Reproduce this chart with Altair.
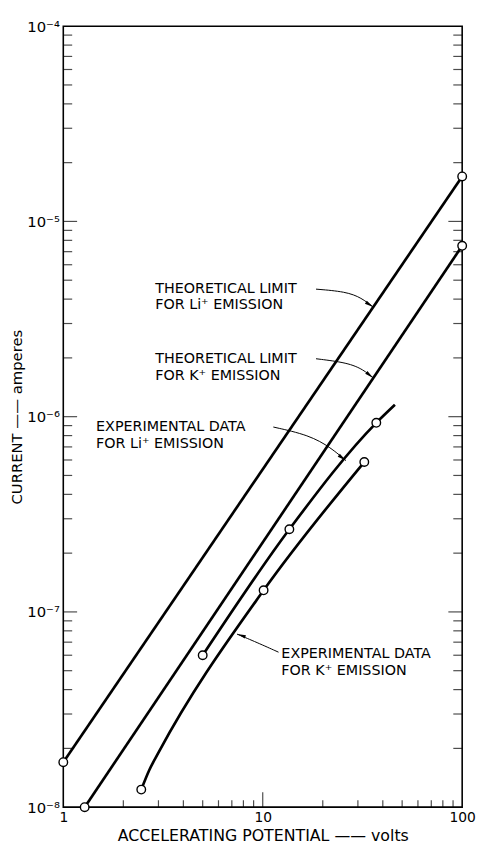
import altair as alt
import pandas as pd

# ---------------- data ----------------
li_theory_x = [1.0, 100.0]
li_theory_y = [1.7e-8, 1.7e-5]
li_theory_marker = [True, True]

k_theory_x = [1.28, 100.0]
k_theory_y = [1.0e-8, 7.5e-6]
k_theory_marker = [True, True]

li_exp_x = [5.0, 13.6, 37.1, 46.0]
li_exp_y = [6.0e-8, 2.65e-7, 9.3e-7, 1.15e-6]
li_exp_marker = [True, True, True, False]

k_exp_x = [2.46, 2.7, 3.0, 10.1, 32.3]
k_exp_y = [1.23e-8, 1.55e-8, 1.9e-8, 1.29e-7, 5.86e-7]
k_exp_marker = [True, False, False, True, True]

# tick positions
x_label_values = [1, 10, 100]
x_minor_ticks = [2, 3, 4, 5, 6, 7, 8, 9, 20, 30, 40, 50, 60, 70, 80, 90]
x_major_ticks = [10]
y_label_values = [1e-8, 1e-7, 1e-6, 1e-5, 1e-4]
y_decades = [1e-8, 1e-7, 1e-6, 1e-5]
y_multipliers = [2, 3, 4, 5, 6, 7, 8, 9]
y_major_ticks = [1e-7, 1e-6, 1e-5]

# annotations (text lines, anchor in data coordinates)
ann_text = ["THEORETICAL LIMIT", "FOR Li⁺ EMISSION",
            "THEORETICAL LIMIT", "FOR K⁺ EMISSION",
            "EXPERIMENTAL DATA", "FOR Li⁺ EMISSION",
            "EXPERIMENTAL DATA", "FOR K⁺ EMISSION"]
ann_x = [2.89, 2.89, 2.89, 2.89, 1.46, 1.46, 12.4, 12.4]
ann_y = [4.52e-6, 3.71e-6, 1.98e-6, 1.62e-6, 8.85e-7, 7.26e-7, 6.08e-8, 4.99e-8]

arrow_id = [1, 1, 1, 1, 2, 2, 2, 2, 3, 3, 3, 3, 4, 4, 4]
arrow_x = [18.5, 26.1, 31.3, 35.8,
           18.5, 26.7, 32.0, 35.8,
           11.3, 17.1, 22.0, 26.1,
           12.0, 9.34, 7.43]
arrow_y = [4.5e-6, 4.37e-6, 4.06e-6, 3.64e-6,
           1.98e-6, 1.89e-6, 1.74e-6, 1.58e-6,
           8.85e-7, 8.05e-7, 6.93e-7, 5.96e-7,
           6.22e-8, 6.98e-8, 7.7e-8]
head_x = [35.8, 35.8, 26.1, 7.43]
head_y = [3.64e-6, 1.58e-6, 5.96e-7, 7.7e-8]
head_angle = [124, 129, 127, 288]

# ---------------- tables ----------------
rows = []
for name, xs, ys, ms in [("li_theory", li_theory_x, li_theory_y, li_theory_marker),
                         ("k_theory", k_theory_x, k_theory_y, k_theory_marker),
                         ("li_exp", li_exp_x, li_exp_y, li_exp_marker),
                         ("k_exp", k_exp_x, k_exp_y, k_exp_marker)]:
    for i, (x, y, m) in enumerate(zip(xs, ys, ms)):
        rows.append({"series": name, "x": x, "y": y, "i": i, "marker": m})
df = pd.DataFrame(rows)
df_pts = df[df["marker"]]

df_xminor = pd.DataFrame({"x": x_minor_ticks, "y": [1e-8] * len(x_minor_ticks)})
df_xmajor = pd.DataFrame({"x": x_major_ticks, "y": [1e-8] * len(x_major_ticks)})
y_minor = [d * m for d in y_decades for m in y_multipliers]
df_yminor_l = pd.DataFrame({"x": [1] * len(y_minor), "y": y_minor})
df_ymajor_l = pd.DataFrame({"x": [1] * len(y_major_ticks), "y": y_major_ticks})
df_yminor_r = pd.DataFrame({"x": [100] * len(y_minor), "y": y_minor})
df_ymajor_r = pd.DataFrame({"x": [100] * len(y_major_ticks), "y": y_major_ticks})

df_text = pd.DataFrame({"x": ann_x, "y": ann_y, "text": ann_text})
df_arrow = pd.DataFrame({"id": arrow_id, "x": arrow_x, "y": arrow_y,
                         "o": list(range(len(arrow_x)))})
df_head = pd.DataFrame({"x": head_x, "y": head_y, "angle": head_angle})

FONT = "DejaVu Sans"

X = alt.X("x:Q", scale=alt.Scale(type="log", domain=[1, 100], nice=False),
          axis=alt.Axis(values=x_label_values, format="d", ticks=False, domain=False,
                        grid=False, labelPadding=4, labelFontSize=14, labelFont=FONT,
                        labelColor="black", title="ACCELERATING POTENTIAL —— volts",
                        titleFont=FONT, titleFontSize=16, titleFontWeight="normal",
                        titleColor="black", titlePadding=3, labelFlush=False))
Y = alt.Y("y:Q", scale=alt.Scale(type="log", domain=[1e-8, 1e-4], nice=False),
          axis=alt.Axis(values=y_label_values,
                        labelExpr="'10' + ['⁻⁸','⁻⁷','⁻⁶','⁻⁵','⁻⁴'][round(log(datum.value)/LN10)+8]",
                        ticks=False, domain=False, grid=False, labelPadding=4,
                        labelFontSize=15, labelFont=FONT, labelColor="black",
                        labelFlush=False,
                        title="CURRENT —— amperes", titleFont=FONT, titleFontSize=15,
                        titleFontWeight="normal", titleColor="black", titlePadding=2))

lines = alt.Chart(df).mark_line(color="black", strokeWidth=2.7, interpolate="monotone").encode(
    x=X, y=Y, detail="series:N", order="i:Q")

points = alt.Chart(df_pts).mark_point(shape="circle", filled=True, fill="white", stroke="black",
                                      strokeWidth=1.4, size=75, opacity=1).encode(x=X, y=Y)

t_xminor = alt.Chart(df_xminor).mark_tick(orient="vertical", size=7, thickness=1.2,
                                          yOffset=-3.5, color="black").encode(x=X, y=Y)
t_xmajor = alt.Chart(df_xmajor).mark_tick(orient="vertical", size=15, thickness=1.2,
                                          yOffset=-7.5, color="black").encode(x=X, y=Y)
t_ylminor = alt.Chart(df_yminor_l).mark_tick(orient="horizontal", size=9, thickness=1.2,
                                             xOffset=4.5, color="black").encode(x=X, y=Y)
t_ylmajor = alt.Chart(df_ymajor_l).mark_tick(orient="horizontal", size=14, thickness=1.2,
                                             xOffset=7, color="black").encode(x=X, y=Y)
t_yrminor = alt.Chart(df_yminor_r).mark_tick(orient="horizontal", size=9, thickness=1.2,
                                             xOffset=-4.5, color="black").encode(x=X, y=Y)
t_yrmajor = alt.Chart(df_ymajor_r).mark_tick(orient="horizontal", size=14, thickness=1.2,
                                             xOffset=-7, color="black").encode(x=X, y=Y)

texts = alt.Chart(df_text).mark_text(align="left", baseline="middle", font=FONT,
                                     fontSize=14.5, color="black").encode(x=X, y=Y, text="text:N")

arrows = alt.Chart(df_arrow).mark_line(color="black", strokeWidth=1, interpolate="basis").encode(
    x=X, y=Y, detail="id:N", order="o:Q")

heads = alt.Chart(df_head).mark_point(shape="M0,0L0.4,2L-0.4,2Z", filled=True, color="black",
                                      size=80, opacity=1).encode(
    x=X, y=Y, angle=alt.Angle("angle:Q", scale=None))

chart = alt.layer(lines, t_xminor, t_xmajor, t_ylminor, t_ylmajor, t_yrminor, t_yrmajor,
                  arrows, heads, texts, points).properties(
    width=404, height=791,
    padding={"left": 56, "top": 13, "right": 14, "bottom": 40},
    autosize=alt.AutoSizeParams(type="none"),
    background="white",
).configure_view(stroke="black", strokeWidth=1.6)

chart.save("out.html", embed_options={"renderer": "svg", "actions": False})
